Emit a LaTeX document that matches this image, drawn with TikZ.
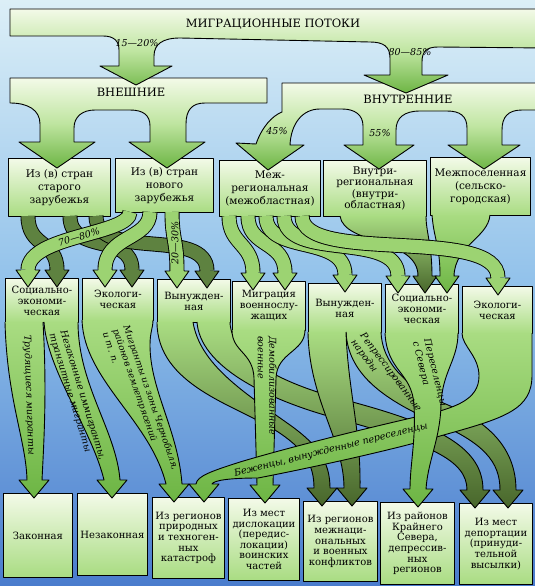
\documentclass[tikz,border=0pt]{standalone}
\usepackage{fontspec}
\setmainfont{DejaVu Serif}
\usetikzlibrary{calc}
\definecolor{bgtop}{HTML}{DCEFF7}
\definecolor{bgmid}{HTML}{8FC0EA}
\definecolor{bgbot}{HTML}{4A7CCD}
\definecolor{gtop}{HTML}{F3FAE8}
\definecolor{gmid}{HTML}{A9DC82}
\definecolor{gbot}{HTML}{6DB544}
\definecolor{dkbot}{HTML}{48662B}
\definecolor{flowl}{HTML}{9CD372}
\definecolor{flowd}{HTML}{5E8240}
\tikzset{
  outl/.style={draw=black, line width=0.9pt, line join=round},
  boxbase/.style={outl, rectangle, inner sep=0pt, align=center, anchor=north west, top color=gtop, bottom color=gmid},
  boxA/.style={boxbase, font=\fontsize{10.5}{13}\selectfont},
  boxB/.style={boxbase, font=\fontsize{10}{11}\selectfont},
  boxC/.style={boxbase, font=\fontsize{10}{10.6}\selectfont},
  bigshape/.style={outl, top color=gtop, bottom color=gbot, middle color=gmid!70!gtop},
  fbandL/.style={outl, top color=gmid, bottom color=gbot},
  fbandD/.style={outl, top color=gmid, bottom color=dkbot},
  lab/.style={font=\fontsize{9.5}{11.5}\selectfont\itshape, inner sep=0pt, align=left},
  slab/.style={font=\fontsize{9.5}{10}\selectfont\itshape, inner sep=0pt},
  head/.style={font=\fontsize{11.5}{12}\selectfont, inner sep=0pt},
}
% stroked band with arrow head: #1 colour, #2 x0, #3 y0, #4 c1, #5 c2, #6 xn, #7 yn
\newcommand\sflow[7]{%
  \draw[line width=15pt, black] (#2,#3) .. controls #4 and #5 .. (#6,#7);
  \draw[line width=13.2pt, #1] (#2,#3) .. controls #4 and #5 .. (#6,#7);
  \filldraw[outl, fill=#1] (#6-7,#7) -- (#6-12,#7) -- (#6,#7+17) -- (#6+12,#7) -- (#6+7,#7);
}
\begin{document}
\begin{tikzpicture}[x=1pt,y=-1pt]
\useasboundingbox (0,0) rectangle (535,586);
\clip (0,0) rectangle (535,586);
\shade[top color=bgtop, bottom color=bgbot, middle color=bgmid] (0,0) rectangle (535,586);

% ---------- level 5 boxes
\node[boxC, minimum width=69pt, minimum height=84pt] (l5a) at (3,493) {Законная};
\node[boxC, minimum width=70pt, minimum height=82pt] (l5b) at (77,493) {Незаконная};
\node[boxC, minimum width=72pt, minimum height=81pt] (l5c) at (152,497) {Из регионов\\природных\\и техноген-\\ных\\катастроф};
\node[boxC, minimum width=71pt, minimum height=82pt] (l5d) at (228,498) {Из мест\\дислокации\\(передис-\\локации)\\воинских\\частей};
\node[boxC, minimum width=74pt, minimum height=80pt] (l5e) at (303,501) {Из регионов\\межнаци-\\ональных\\и военных\\конфликтов};
\node[boxC, minimum width=74pt, minimum height=82pt] (l5f) at (380,502) {Из районов\\Крайнего\\Севера,\\депрессив-\\ных\\регионов};
\node[boxC, minimum width=73pt, minimum height=81pt] (l5g) at (459,503) {Из мест\\депортации\\(принуди-\\тельной\\высылки)};

% ---------- level 4 boxes
\node[boxB, minimum width=73pt, minimum height=44pt] (l4a) at (5,278) {Социально-\\экономи-\\ческая};
\node[boxB, minimum width=71pt, minimum height=42pt] (l4b) at (82,278) {Экологи-\\ческая};
\node[boxB, minimum width=73pt, minimum height=43pt] (l4c) at (157,279) {Вынужден-\\ная};
\node[boxB, minimum width=73pt, minimum height=49pt] (l4d) at (232,281) {Миграция\\военнослу-\\жащих};
\node[boxB, minimum width=73pt, minimum height=49pt] (l4e) at (308,283) {Вынужден-\\ная};
\node[boxB, minimum width=73pt, minimum height=49pt] (l4f) at (385,284) {Социально-\\экономи-\\ческая};
\node[boxB, minimum width=70pt, minimum height=47pt] (l4g) at (462,286) {Экологи-\\ческая};

% ---------- level 4 -> 5 bands : dark
\path[fbandD] (197,322) .. controls (200,365) and (262,398) .. (335,418) .. controls (430,444) and (467,460) .. (467,490)
  -- (460,490) -- (475,508) -- (490,490) -- (483,490)
  .. controls (483,448) and (440,425) .. (345,400) .. controls (275,382) and (231,355) .. (230,322);
\path[fbandD] (157,322) .. controls (157,385) and (235,405) .. (275,430) .. controls (305,449) and (314,465) .. (314,488)
  -- (307,488) -- (322,506) -- (337,488) -- (330,488)
  .. controls (330,462) and (318,445) .. (290,425) .. controls (245,393) and (200,365) .. (193,322);
\path[fbandD] (346,332) .. controls (348,372) and (380,398) .. (435,422) .. controls (484,443) and (500,462) .. (500,490)
  -- (493,490) -- (508,508) -- (523,490) -- (516,490)
  .. controls (516,448) and (488,422) .. (448,405) .. controls (405,387) and (382,362) .. (381,332);
\path[fbandD] (308,332) .. controls (309,400) and (344,440) .. (344,488)
  -- (337,488) -- (352,506) -- (367,488) -- (360,488)
  .. controls (361,430) and (348,390) .. (346,332);
% light
\path[fbandL] (5,322) .. controls (7,400) and (26,440) .. (27,480)
  -- (19,480) -- (34,498) -- (49,480) -- (42,480)
  .. controls (44,440) and (47,390) .. (43,322);
\path[fbandL] (44,322) .. controls (47,370) and (92,430) .. (104,480)
  -- (97,480) -- (112,498) -- (127,480) -- (120,480)
  .. controls (116,430) and (78,385) .. (78,322);
\path[fbandL] (82,320) .. controls (84,380) and (150,420) .. (166,484)
  -- (159,484) -- (174,502) -- (189,484) -- (182,484)
  .. controls (178,430) and (150,390) .. (150,345) .. controls (150,332) and (153,328) .. (153,320);
\path[fbandL] (232,330) .. controls (232,352) and (253,352) .. (254,378) -- (257,485)
  -- (250,485) -- (265,503) -- (280,485) -- (273,485)
  -- (276,378) .. controls (277,352) and (305,352) .. (305,330);
\path[fbandL] (462,333) .. controls (462,346) and (479,356) .. (479,376) .. controls (479,400) and (455,408) .. (420,416)
  .. controls (350,432) and (280,450) .. (240,462) .. controls (212,471) and (197,476) .. (196,484)
  -- (189,484) -- (204,502) -- (219,484) -- (212,484)
  .. controls (214,480) and (232,478) .. (258,478) .. controls (320,466) and (400,448) .. (440,436)
  .. controls (505,418) and (532,410) .. (532,375) -- (532,333);
\path[fbandL] (385,333) .. controls (387,372) and (412,372) .. (414,405) .. controls (416,440) and (410,465) .. (410,489)
  -- (403,489) -- (418,507) -- (433,489) -- (426,489)
  .. controls (428,460) and (440,440) .. (441,405) .. controls (442,372) and (458,360) .. (458,333);

% labels on lower bands
\node[lab, rotate=-88] (t1) at (29,395) {Трудящиеся мигранты};
\node[lab, rotate=-73] (t2) at (77,397) {Незаконные иммигранты,\\транзитные мигранты};
\node[lab, font=\fontsize{9}{11}\selectfont\itshape, rotate=-71] (t3) at (141,401) {Мигранты из зоны Чернобыля,\\районов землетрясений\\и т. п.};
\node[lab, rotate=-90, anchor=north west] (t4) at (277,336) {Демобилизованные\\военные};
\node[lab, rotate=-53] (t5) at (386,376) {Репрессированные\\народы};
\node[lab, rotate=-76, anchor=north west] (t6) at (431,338) {Переселенцы\\с Севера};
\node[lab, rotate=14] (t7) at (331,450) {Беженцы, вынужденные переселенцы};

% ---------- level 3 boxes
\node[boxA, minimum width=102pt, minimum height=58pt] (l3a) at (8,158) {Из (в) стран\\старого\\зарубежья};
\node[boxA, minimum width=98pt, minimum height=54pt] (l3b) at (115,158) {Из (в) стран\\нового\\зарубежья};
\node[boxA, minimum width=101pt, minimum height=56pt] (l3c) at (219,160) {Меж-\\региональная\\(межобластная)};
\node[boxA, font=\fontsize{10.5}{11.5}\selectfont, minimum width=103pt, minimum height=56pt] (l3d) at (323,160) {Внутри-\\региональная\\(внутри-\\областная)};
\node[boxA, minimum width=100pt, minimum height=58pt] (l3e) at (430,157) {Межпоселенная\\(сельско-\\городская)};

% ---------- level 3 -> 4 bands
\path[fbandD] (340,216) .. controls (344,245) and (418,238) .. (418,276) -- (413,276) -- (425,293) -- (437,276) -- (432,276) .. controls (432,245) and (426,232) .. (426,216);
\path[fbandL] (432,215) .. controls (434,240) and (440,245) .. (440,276) -- (435,276) -- (447,293) -- (459,276) -- (454,276) .. controls (455,245) and (488,238) .. (490,215);
\sflow{flowd}{28}{216}{(28,248)}{(57,240)}{57}{270}
\sflow{flowd}{70}{216}{(70,255)}{(132,232)}{132}{270}
\sflow{flowd}{96}{216}{(96,262)}{(207,226)}{207}{271}
\sflow{flowl}{130}{212}{(130,235)}{(28,235)}{28}{270}
\sflow{flowl}{150}{212}{(150,240)}{(105,235)}{105}{270}
\sflow{flowl}{172}{212}{(172,240)}{(177,240)}{177}{271}
\sflow{flowl}{229}{216}{(229,245)}{(253,243)}{253}{273}
\sflow{flowl}{248}{216}{(248,248)}{(285,240)}{285}{273}
\sflow{flowl}{266}{216}{(266,255)}{(345,234)}{345}{275}
\sflow{flowl}{284}{216}{(284,262)}{(398,230)}{398}{276}
\sflow{flowl}{302}{216}{(302,265)}{(498,225)}{498}{278}
\node[slab, rotate=16] (p7080) at (79,237) {70—80\%};
\node[slab, rotate=90] (p2030) at (175,243) {20—30\%};

% ---------- level 2 shapes
\path[bigshape] (10,78) -- (267,78) -- (267,103) -- (205,103) .. controls (192,103) and (186,110) .. (186,124) -- (186,142)
  -- (205,142) -- (167,168) -- (129,142) -- (150,142) -- (150,126) .. controls (150,115) and (143,110) .. (130,110)
  -- (95,110) .. controls (82,110) and (74,117) .. (74,128) -- (74,142) -- (95,142) -- (57,168) -- (19,142) -- (40,142)
  -- (40,124) .. controls (40,110) and (28,103) .. (10,103) -- cycle;
\path[bigshape] (282,83) -- (545,83) -- (545,110) -- (522,110) .. controls (508,110) and (502,117) .. (502,130) -- (502,145)
  -- (520,145) -- (484,169) -- (448,145) -- (467,145) -- (467,128) .. controls (467,116) and (460,111) .. (447,111)
  -- (420,111) .. controls (404,111) and (396,118) .. (396,130) -- (396,145) -- (414,145) -- (379,169) -- (344,145) -- (363,145)
  -- (363,126) .. controls (363,115) and (355,109) .. (342,109) -- (320,109) .. controls (302,109) and (291,124) .. (290,145)
  -- (304,145) -- (268,170) -- (236,143) -- (256,144) .. controls (262,127) and (272,116) .. (282,112) -- cycle;
\node[head] (hExt) at (131,92) {ВНЕШНИЕ};
\node[head] (hInt) at (408,99) {ВНУТРЕННИЕ};
\node[slab] (p45) at (277,131) {45\%};
\node[slab] (p55) at (380,133) {55\%};

% ---------- level 1 shape
\path[bigshape] (10,9) -- (545,9) -- (545,48) -- (438,47) .. controls (426,47) and (422,52) .. (422,62) -- (422,75)
  -- (448,75) -- (406,93) -- (364,75) -- (390,75) -- (390,58) .. controls (390,47) and (384,42) .. (370,42)
  -- (180,38) .. controls (163,38) and (154,44) .. (154,56) -- (154,66) -- (172,66) -- (136,85) -- (100,66) -- (119,66)
  -- (119,50) .. controls (119,41) and (114,36) .. (103,36) -- (10,36) -- cycle;
\node[head] (hMig) at (273,24) {МИГРАЦИОННЫЕ ПОТОКИ};
\node[slab] (p1520) at (137,43) {15—20\%};
\node[slab] (p8085) at (410,52) {80—85\%};
\end{tikzpicture}
\end{document}
